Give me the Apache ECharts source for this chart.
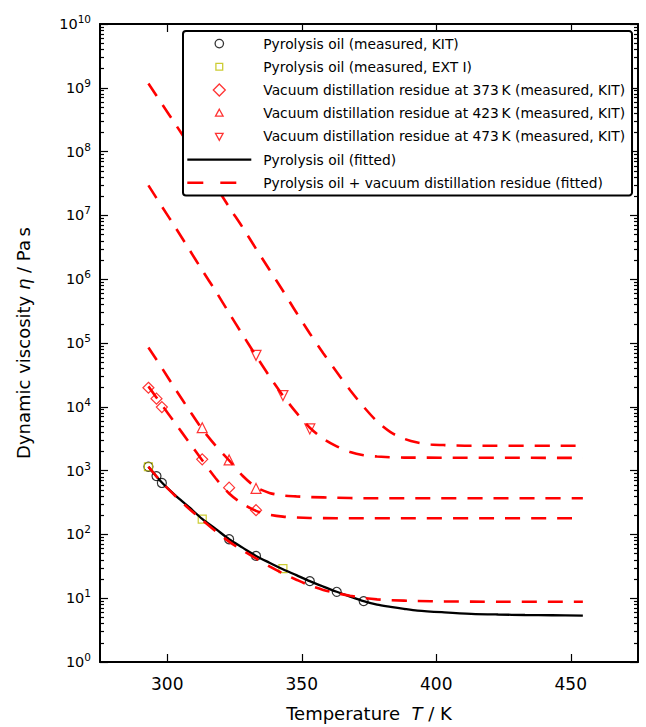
<!DOCTYPE html>
<html>
<head>
<meta charset="utf-8">
<script src="https://cdn.jsdelivr.net/npm/echarts@6/dist/echarts.min.js"></script>
<style>
  html, body { margin: 0; padding: 0; background: #ffffff; }
  #chart { width: 646px; height: 727px; }
</style>
</head>
<body>
<div id="chart"></div>
<script>
// ---- measured viscosities (T in K, eta in Pa s) ----
const kitT   = [293, 296, 298, 323, 333, 353, 363, 373];
const kitEta = [1150, 820, 640, 84, 46, 18.5, 12.6, 9.0];

const extT   = [293, 313, 343];
const extEta = [1150, 173, 29];

const vdr373T   = [293, 296, 298, 313, 323, 333];
const vdr373Eta = [19900, 13400, 9900, 1500, 540, 240];

const vdr423T   = [313, 323, 333];
const vdr423Eta = [4700, 1470, 525];

const vdr473T   = [333, 343, 353];
const vdr473Eta = [64000, 15000, 4500];

// ---- fitted curves ----
const fitPyroT   = [293, 298, 303, 308, 313, 318, 323, 328, 333, 338, 343, 348, 353, 358, 363, 368, 373, 378, 383, 388, 393, 403, 413, 423, 433, 443, 454.5];
const fitPyroEta = [1150, 650, 410, 270, 175, 122, 84, 62, 46, 36, 28.5, 23, 18.5, 15.2, 12.6, 10.6, 9.0, 7.9, 7.3, 6.8, 6.4, 6.0, 5.7, 5.55, 5.45, 5.4, 5.35];

const fitMixAT   = [293, 298, 303, 308, 313, 318, 323, 328, 333, 338, 343, 348, 353, 358, 363, 368, 373, 378, 383, 393, 403, 413, 423, 454.5];
const fitMixAEta = [1150, 650, 400, 255, 168, 112, 77, 56, 42, 31.5, 24.5, 19.5, 15.8, 13.5, 12.0, 10.9, 10.1, 9.6, 9.3, 9.05, 8.9, 8.85, 8.8, 8.8];

const fitMixBT   = [293, 298, 303, 308, 313, 318, 323, 328, 333, 338, 343, 348, 353, 363, 454.5];
const fitMixBEta = [20900, 10700, 5500, 2820, 1450, 760, 437, 302, 234, 204, 190, 184, 181, 179.5, 179.5];

const fitMixCT   = [293, 298, 303, 308, 313, 318, 323, 328, 333, 338, 343, 348, 353, 363, 373, 454.5];
const fitMixCEta = [85000, 40700, 19000, 9100, 4470, 2450, 1445, 830, 550, 447, 407, 394, 385, 376, 369, 369];

const fitMixDT   = [293, 298, 303, 308, 313, 318, 323, 328, 333, 338, 343, 348, 353, 358, 363, 368, 373, 378, 388, 454.5];
const fitMixDEta = [2.95e7, 1.38e7, 6.5e6, 3.0e6, 1.38e6, 6.5e5, 2.95e5, 1.35e5, 6.3e4, 3.0e4, 1.5e4, 8100, 4700, 3160, 2400, 1950, 1740, 1660, 1600, 1585];

const fitMixET   = [293, 298, 303, 308, 313, 318, 323, 328, 333, 338, 343, 348, 353, 358, 363, 368, 373, 378, 383, 388, 393, 398, 403, 413, 454.5];
const fitMixEEta = [1.17e9, 5.6e8, 2.7e8, 1.29e8, 6.2e7, 2.9e7, 1.35e7, 6.5e6, 3.0e6, 1.41e6, 6.6e5, 3.0e5, 1.41e5, 6.9e4, 3.5e4, 1.82e4, 1.0e4, 5900, 4000, 3160, 2750, 2570, 2510, 2455, 2455];

// ---- axis ticks ----
const xTicks = [300, 350, 400, 450];
const yExponents = [0, 1, 2, 3, 4, 5, 6, 7, 8, 9, 10];
const yMajor = yExponents.map(e => Math.pow(10, e));
const yMinor = [];
yExponents.slice(0, -1).forEach(e => {
  for (let m = 2; m <= 9; m++) yMinor.push(m * Math.pow(10, e));
});

// ---- legend names ----
const nameKit = 'Pyrolysis oil (measured, KIT)';
const nameExt = 'Pyrolysis oil (measured, EXT I)';
const name373 = 'Vacuum distillation residue at 373\u2009K (measured, KIT)';
const name423 = 'Vacuum distillation residue at 423\u2009K (measured, KIT)';
const name473 = 'Vacuum distillation residue at 473\u2009K (measured, KIT)';
const nameFitPyro = 'Pyrolysis oil (fitted)';
const nameFitMix = 'Pyrolysis oil + vacuum distillation residue (fitted)';

const FONT = 'DejaVu Sans';
const RED = '#ff0000';
const pairs = (xs, ys) => xs.map((x, i) => [x, ys[i]]);

function markers(name, xs, ys, symbol, size, color, rotate) {
  return {
    name, type: 'scatter', data: pairs(xs, ys),
    symbol, symbolSize: size, symbolRotate: rotate || 0,
    itemStyle: { color: 'rgba(0,0,0,0)', borderColor: color, borderWidth: 1.2 },
    z: 2, silent: true
  };
}
function dashedFit(xs, ys) {
  return {
    name: nameFitMix, type: 'line', data: pairs(xs, ys),
    symbol: 'none', smooth: 0.3,
    itemStyle: { color: RED },
    lineStyle: { color: RED, width: 2.6, type: [15, 11] },
    z: 3, silent: true
  };
}

const frameLine = { show: true, lineStyle: { color: '#000', width: 2 } };
const tickStyle = { color: '#000', width: 1.2 };

function yAxisDef(position, values, len, labels, line) {
  return {
    type: 'log', logBase: 10, min: 1, max: 1e10, position,
    axisLine: line ? frameLine : { show: false },
    axisTick: { show: true, inside: true, length: len, customValues: values, lineStyle: tickStyle },
    axisLabel: labels ? {
      show: true, customValues: yMajor, margin: 9,
      formatter: v => '{b|10}{e|' + Math.round(Math.log10(v)) + '}',
      rich: {
        b: { fontFamily: FONT, fontSize: 14.5, color: '#000' },
        e: { fontFamily: FONT, fontSize: 10.5, color: '#000', padding: [0, 0, 10, 0] }
      }
    } : { show: false },
    splitLine: { show: false }, minorTick: { show: false }
  };
}

// Legend icons live in a 64 x 14 box; the two leading moves pin the box so each
// marker keeps its own size, centred in the slot.
const ICON_BOX = 'path://M0 0M64 14';
const legendIcons = {
  circle:   ICON_BOX + 'M36.2 7A4.2 4.2 0 1 1 27.8 7A4.2 4.2 0 1 1 36.2 7Z',
  square:   ICON_BOX + 'M28.6 3.6L35.4 3.6L35.4 10.4L28.6 10.4Z',
  diamond:  ICON_BOX + 'M32 1L38 7L32 13L26 7Z',
  triUp:    ICON_BOX + 'M32 3L35.8 10L28.2 10Z',
  triDown:  ICON_BOX + 'M28.2 4L35.8 4L32 11Z'
};
const markerIcon = (name, icon, color) => ({
  name, icon,
  itemStyle: { color: 'rgba(0,0,0,0)', borderColor: color, borderWidth: 1.3 }
});
const lineIcon = (name, color, type) => ({
  name,
  itemStyle: { color: 'rgba(0,0,0,0)', borderWidth: 0, opacity: 0 },
  lineStyle: { color, width: type === 'solid' ? 2.3 : 2.6, type }
});

const option = {
  animation: false,
  backgroundColor: '#ffffff',
  grid: { left: 100, right: 8, top: 24, bottom: 64, containLabel: false },
  xAxis: [
    {
      type: 'value', min: 275, max: 475, position: 'bottom',
      axisLine: frameLine,
      axisTick: { show: true, inside: true, length: 8, customValues: xTicks, lineStyle: tickStyle },
      axisLabel: { show: true, customValues: xTicks, margin: 13, fontFamily: FONT, fontSize: 17, color: '#000' },
      splitLine: { show: false },
      name: 'Temperature  {i|T} / K', nameLocation: 'middle', nameGap: 42,
      nameTextStyle: {
        fontFamily: FONT, fontSize: 18, color: '#000',
        rich: { i: { fontFamily: FONT, fontSize: 18, fontStyle: 'italic', color: '#000' } }
      }
    },
    {
      type: 'value', min: 275, max: 475, position: 'top',
      axisLine: frameLine,
      axisTick: { show: true, inside: true, length: 8, customValues: xTicks, lineStyle: tickStyle },
      axisLabel: { show: false }, splitLine: { show: false }
    }
  ],
  yAxis: [
    Object.assign(yAxisDef('left', yMajor, 8, true, true), {
      name: 'Dynamic viscosity {i|η} / Pa\u2009s', nameLocation: 'middle', nameGap: 68,
      nameTextStyle: {
        fontFamily: FONT, fontSize: 18, color: '#000',
        rich: { i: { fontFamily: FONT, fontSize: 18, fontStyle: 'italic', color: '#000' } }
      }
    }),
    yAxisDef('right', yMajor, 8, false, true),
    yAxisDef('left', yMinor, 4, false, false),
    yAxisDef('right', yMinor, 4, false, false)
  ],
  legend: {
    orient: 'vertical', left: 183, top: 31,
    itemWidth: 64, itemHeight: 14, itemGap: 0,
    padding: [1, 7, 1, 3],
    borderColor: '#000', borderWidth: 2, borderRadius: 3,
    backgroundColor: '#ffffff',
    selectedMode: false,
    textStyle: { fontFamily: FONT, fontSize: 13.8, color: '#000', lineHeight: 23.2, padding: [0, 0, 0, 7] },
    data: [
      markerIcon(nameKit, legendIcons.circle, '#000000'),
      markerIcon(nameExt, legendIcons.square, '#bfbf00'),
      markerIcon(name373, legendIcons.diamond, RED),
      markerIcon(name423, legendIcons.triUp, RED),
      markerIcon(name473, legendIcons.triDown, RED),
      lineIcon(nameFitPyro, '#000000', 'solid'),
      lineIcon(nameFitMix, RED, [16, 17])
    ]
  },
  series: [
    markers(nameKit, kitT, kitEta, 'circle', 9, '#000000'),
    markers(nameExt, extT, extEta, 'rect', 8, '#bfbf00'),
    markers(name373, vdr373T, vdr373Eta, 'diamond', 11, RED),
    markers(name423, vdr423T, vdr423Eta, 'triangle', 10, RED),
    markers(name473, vdr473T, vdr473Eta, 'triangle', 10, RED, 180),
    {
      name: nameFitPyro, type: 'line', data: pairs(fitPyroT, fitPyroEta),
      symbol: 'none', smooth: 0.3,
      itemStyle: { color: '#000000' },
      lineStyle: { color: '#000000', width: 2.3, type: 'solid' },
      z: 3, silent: true
    },
    dashedFit(fitMixAT, fitMixAEta),
    dashedFit(fitMixBT, fitMixBEta),
    dashedFit(fitMixCT, fitMixCEta),
    dashedFit(fitMixDT, fitMixDEta),
    dashedFit(fitMixET, fitMixEEta)
  ]
};

const chart = echarts.init(document.getElementById('chart'), null, { renderer: 'svg' });
chart.setOption(option);
</script>
</body>
</html>
